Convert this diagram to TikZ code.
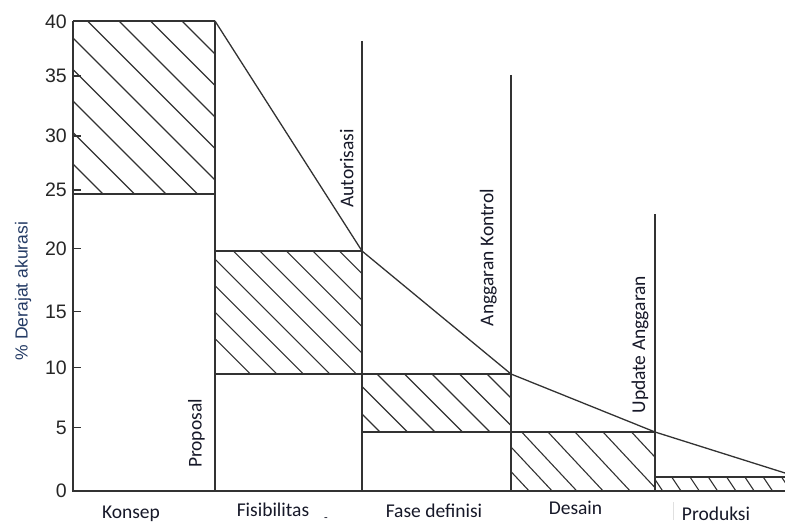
\documentclass[tikz,border=0pt]{standalone}
\usepackage{fontspec}
\setmainfont{Carlito}
\newfontfamily\arialfont{Liberation Sans}
\definecolor{ink}{RGB}{50,50,50}
\definecolor{labelink}{RGB}{22,24,40}
\definecolor{axislabel}{RGB}{35,58,100}

% hatch a rectangular band: x1, y1, x2, y2, slope, start positions along the top edge
\newcommand{\hatchregion}[6]{%
  \begin{scope}
    \clip (#1,#2) rectangle (#3,#4);
    \foreach \s in {#6}
      \draw[hatchline] (\s,#2) -- ++(300,{300*#5});
  \end{scope}}

\begin{document}
\begin{tikzpicture}[x=1pt,y=-1pt,
  frame/.style={draw=ink,line width=1.5pt},
  hatchline/.style={draw=ink,line width=1.1pt},
  tickmark/.style={draw=ink,line width=1.2pt},
  ynum/.style={font=\arialfont\fontsize{19.5}{22}\selectfont,text=black!85,anchor=east,inner sep=0pt},
  phase/.style={font=\fontsize{19.5}{22}\selectfont,text=labelink,anchor=base,inner sep=0pt},
  milestone/.style={font=\fontsize{19.5}{22}\selectfont,text=labelink,rotate=90,inner sep=0pt},
]
\useasboundingbox (0,0) rectangle (785,524);

% hatched accuracy bands of each phase
\hatchregion{73}{21}{215}{194}{1}{-70,-38.5,...,183}
\hatchregion{215}{251}{362}{374}{1}{127.3,153.8,...,340}
\hatchregion{362}{374}{511}{432}{1}{322,349.5,...,490}
\hatchregion{511}{432}{655}{491}{1.07}{474,497,521.7,548,575,603,631.5}
\hatchregion{655}{477}{785}{491}{1.5}{653.4,671.7,...,786}

% axis and baseline
\draw[frame] (73,21) -- (73,491) -- (785,491);

% band edges
\draw[frame] (73,21) -- (215,21);
\draw[frame] (73,194) -- (215,194);
\draw[frame] (215,251) -- (362,251);
\draw[frame] (215,374) -- (511,374);
\draw[frame] (362,432) -- (655,432);
\draw[frame] (655,477) -- (785,477);

% phase boundaries
\draw[frame] (215,21) -- (215,491);
\draw[frame] (362,41) -- (362,491);
\draw[frame] (511,75) -- (511,491);
\draw[frame] (655,214) -- (655,491);

% upper envelope of the estimate accuracy
\coordinate (e0) at (215,21);
\coordinate (e1) at (362,251);
\coordinate (e2) at (511,374);
\coordinate (e3) at (655,432);
\coordinate (e4) at (785,473);
\draw[frame,line width=1.3pt] (e0) -- (e1) -- (e2) -- (e3) -- (e4);

% y ticks and numbers
\foreach \v/\y in {40/21.7,35/76,30/136,25/190,20/248.5,15/311.7,10/367.3,5/427.7,0/491}{
  \draw[tickmark] (73,\y) -- (81,\y);
  \node[ynum] (n\v) at (67,\y) {\v};
}

% axis title
\node[font=\arialfont\fontsize{17.5}{20}\selectfont,text=axislabel,rotate=90,anchor=base,inner sep=0pt]
  (ytitle) at (27.5,291) {\% Derajat akurasi};

% phase names
\node[phase] (konsep) at (131,518) {Konsep};
\node[phase] (fisib) at (273,516) {Fisibilitas};
\node[phase] (fase) at (434,517) {Fase definisi};
\node[phase] (desain) at (575.5,514) {Desain};
\node[phase] (produksi) at (716,520) {Produksi};
\node[font=\fontsize{12}{14}\selectfont,text=labelink,inner sep=0pt] (dash) at (326,520) {-};
\draw[black!12,line width=0.8pt] (673,502) -- (673,520);

% milestones
\node[milestone] (proposal) at (196.5,433.5) {Proposal};
\node[milestone] (autor) at (346.7,168.5) {Autorisasi};
\node[milestone] (kontrol) at (488.3,257.5) {Anggaran Kontrol};
\node[milestone] (update) at (640,344.7) {Update Anggaran};
\end{tikzpicture}
\end{document}
